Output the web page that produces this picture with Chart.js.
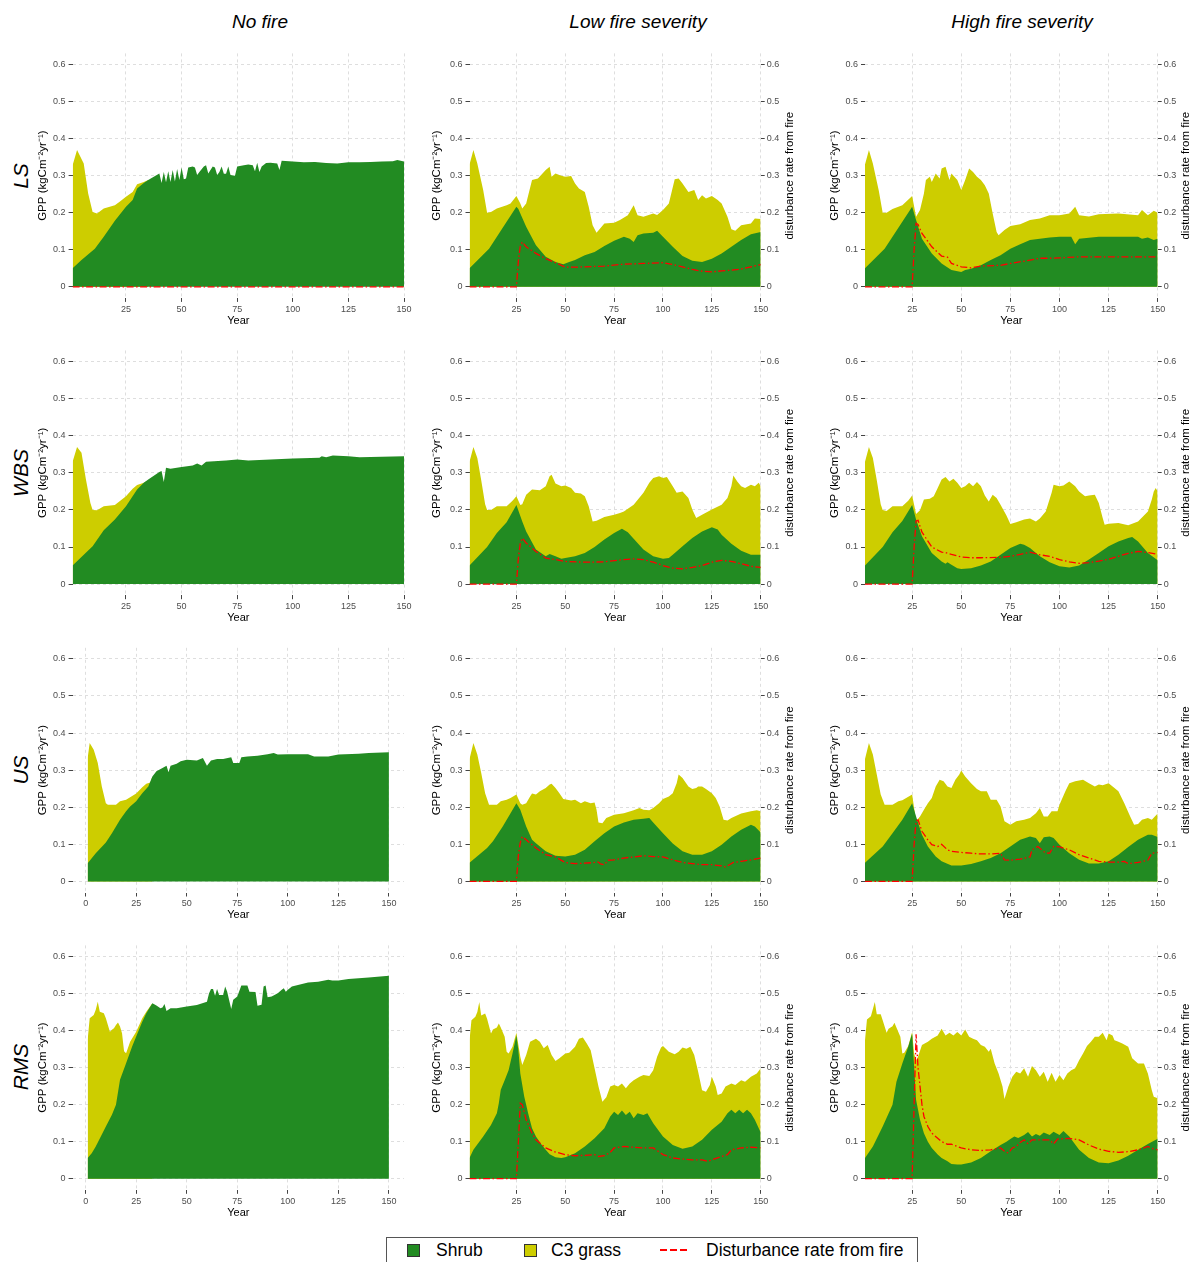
<!DOCTYPE html>
<html>
<head>
<meta charset="utf-8">
<script src="https://cdn.jsdelivr.net/npm/chart.js@4.4.0/dist/chart.umd.min.js"></script>
<style>
  body { margin: 0; background: #fff; width: 1192px; height: 1262px; position: relative; overflow: hidden;
         font-family: "Liberation Sans", Arial, sans-serif; }
  canvas { position: absolute; }
  .coltitle { position: absolute; top: 11px; font-size: 19px; line-height: 22px; font-style: italic;
              transform: translateX(-50%); white-space: nowrap; }
  .rowlabel { position: absolute; font-size: 21px; line-height: 24px; font-style: italic; white-space: nowrap;
              transform: translate(-50%, -50%) rotate(-90deg); }
  #legend { position: absolute; left: 386px; top: 1237px; width: 530px; height: 24px; border: 1px solid #555; }
  .lkey { position: absolute; top: 1244px; width: 13px; height: 13px; box-sizing: border-box; border: 1px solid #333; }
  .ltext { position: absolute; top: 1240px; font-size: 17.5px; line-height: 20px; white-space: nowrap; }
</style>
</head>
<body>
<div id="legend"></div>
<div class="lkey" style="left:407px;background:#228B22"></div>
<div class="ltext" style="left:436px">Shrub</div>
<div class="lkey" style="left:524px;background:#CDCD00"></div>
<div class="ltext" style="left:551px">C3 grass</div>
<svg style="position:absolute;left:658px;top:1244px" width="34" height="12">
  <line x1="2" y1="6" x2="32" y2="6" stroke="#FF0000" stroke-width="2" stroke-dasharray="7,3"/>
</svg>
<div class="ltext" style="left:706px">Disturbance rate from fire</div>

<script>
// Column and row labels
const colTitles = ["No fire", "Low fire severity", "High fire severity"];
const rowTitles = ["LS", "WBS", "US", "RMS"];
const yTicks = [0, 0.1, 0.2, 0.3, 0.4, 0.5, 0.6];
const xTicksA = [25, 50, 75, 100, 125, 150];
const xTicksB = [0, 25, 50, 75, 100, 125, 150];

// ---- LS ----
const lsNoShrub = [[1,.05],[5,.072],[11,.103],[15,.135],[20,.178],[25,.216],[28,.234],[30,.265],[33,.28],[35,.288],[40,.306],[41,.28],[42,.31],[43,.282],[44,.312],[45,.283],[46,.315],[47,.284],[48,.318],[49,.288],[50,.322],[51,.29],[52,.292],[53,.322],[55,.325],[56,.322],[57,.302],[58,.31],[60,.325],[61,.328],[62,.306],[63,.315],[64,.325],[65,.322],[66,.302],[67,.31],[68,.325],[69,.305],[70,.305],[71,.325],[72,.302],[74,.3],[75,.325],[78,.328],[80,.33],[82,.328],[83,.312],[84,.335],[85,.31],[86,.325],[88,.334],[90,.335],[93,.333],[94,.315],[95,.34],[100,.338],[105,.336],[110,.337],[115,.334],[120,.333],[125,.336],[130,.336],[135,.337],[140,.338],[145,.339],[147,.342],[150,.338]];
const lsNoGrass = [[1,.328],[3,.369],[6,.333],[8,.252],[10,.202],[12,.198],[15,.211],[20,.22],[22,.229],[25,.243],[28,.256],[30,.277],[33,.283],[35,.288]];
const lsNoFire = [[1,0],[150,0]];

const lsLowShrub = [[1,.05],[11,.103],[25,.216],[26,.21],[30,.162],[35,.112],[40,.081],[45,.067],[49,.061],[52,.067],[55,.072],[60,.085],[65,.094],[70,.11],[75,.124],[80,.135],[83,.13],[85,.121],[87,.139],[90,.144],[95,.146],[97,.151],[100,.135],[105,.108],[110,.083],[115,.07],[120,.067],[125,.076],[130,.09],[135,.108],[140,.126],[145,.142],[150,.148]];
const lsLowGrass = [[1,.33],[3,.369],[5,.333],[8,.261],[10,.2],[12,.202],[15,.211],[20,.22],[22,.225],[25,.245],[27,.225],[28,.211],[30,.225],[33,.288],[36,.292],[40,.315],[42,.324],[43,.297],[45,.306],[48,.3],[50,.297],[53,.299],[55,.279],[57,.265],[60,.256],[62,.216],[64,.166],[66,.146],[70,.171],[75,.173],[78,.18],[82,.193],[85,.22],[87,.193],[90,.189],[95,.198],[97,.194],[100,.207],[103,.225],[106,.29],[108,.292],[110,.279],[113,.256],[116,.261],[118,.234],[120,.247],[122,.238],[125,.245],[128,.234],[130,.225],[133,.189],[135,.155],[137,.151],[140,.166],[145,.171],[147,.184],[150,.183]];
const lsLowFire = [[1,0],[25,0],[26,.07],[27,.11],[28,.121],[30,.108],[35,.09],[40,.076],[45,.065],[50,.053],[55,.053],[60,.054],[70,.056],[80,.061],[90,.063],[100,.065],[105,.06],[110,.054],[115,.047],[120,.042],[125,.04],[130,.043],[135,.045],[140,.048],[145,.054],[150,.06]];

const lsHighShrub = [[1,.05],[11,.103],[25,.216],[27,.18],[30,.13],[35,.09],[40,.063],[45,.045],[50,.04],[52,.045],[55,.049],[60,.058],[65,.072],[70,.085],[75,.103],[80,.115],[85,.126],[90,.13],[95,.133],[100,.135],[106,.135],[108,.115],[110,.13],[120,.135],[140,.135],[142,.13],[145,.133],[148,.126],[150,.13]];
const lsHighGrass = [[1,.33],[3,.369],[5,.333],[8,.26],[10,.2],[12,.2],[15,.21],[20,.22],[25,.245],[27,.189],[29,.207],[31,.252],[32,.288],[34,.297],[35,.283],[37,.306],[39,.292],[40,.319],[42,.324],[44,.288],[45,.306],[48,.288],[50,.261],[52,.288],[54,.319],[56,.31],[58,.297],[60,.288],[62,.274],[64,.252],[66,.198],[68,.148],[69,.139],[72,.153],[75,.164],[80,.169],[85,.18],[90,.184],[95,.193],[100,.193],[105,.198],[108,.216],[110,.193],[115,.19],[120,.196],[130,.198],[140,.193],[142,.207],[145,.193],[148,.205],[150,.2]];
const lsHighFire = [[1,0],[25,0],[26,.1],[27,.171],[28,.168],[30,.144],[35,.108],[40,.083],[43,.08],[45,.063],[50,.054],[55,.051],[60,.056],[70,.058],[75,.063],[85,.072],[90,.077],[95,.077],[100,.078],[110,.081],[150,.081]];

// ---- WBS ----
const wbsNoShrub = [[1,.05],[10,.102],[15,.145],[20,.174],[25,.21],[30,.255],[33,.273],[35,.282],[40,.302],[41,.305],[42,.275],[43,.314],[45,.311],[50,.316],[55,.32],[57,.325],[59,.32],[61,.33],[70,.333],[75,.336],[80,.333],[100,.339],[112,.341],[113,.345],[115,.342],[118,.347],[125,.345],[130,.342],[150,.345]];
const wbsNoGrass = [[1,.33],[3,.37],[5,.354],[7,.282],[9,.219],[10,.2],[12,.199],[15,.21],[20,.213],[22,.223],[25,.237],[28,.257],[30,.267],[33,.273],[34,.277]];

const wbsLowShrub = [[1,.05],[10,.1],[15,.138],[20,.167],[25,.213],[28,.169],[30,.142],[35,.093],[40,.075],[42,.081],[45,.075],[48,.068],[50,.07],[55,.075],[60,.084],[65,.1],[70,.12],[75,.138],[79,.149],[82,.14],[85,.122],[90,.093],[95,.075],[100,.068],[103,.07],[105,.079],[110,.102],[115,.124],[120,.142],[125,.153],[128,.147],[130,.133],[135,.109],[140,.09],[145,.079],[150,.079]];
const wbsLowGrass = [[1,.33],[3,.37],[5,.34],[7,.28],[9,.215],[10,.2],[12,.2],[15,.21],[20,.21],[23,.225],[25,.237],[27,.213],[28,.215],[30,.241],[33,.255],[37,.253],[40,.264],[42,.291],[43,.295],[45,.271],[48,.264],[50,.266],[53,.259],[55,.246],[58,.244],[60,.237],[62,.21],[64,.169],[66,.171],[70,.181],[75,.187],[78,.192],[80,.196],[85,.214],[90,.246],[93,.273],[95,.286],[98,.291],[100,.286],[102,.289],[105,.264],[107,.246],[110,.25],[113,.232],[115,.201],[117,.178],[120,.187],[125,.201],[130,.214],[133,.232],[135,.264],[136,.293],[138,.277],[140,.264],[142,.259],[145,.268],[147,.264],[149,.273],[150,.264]];
const wbsLowFire = [[1,0],[25,0],[26,.07],[27,.11],[28,.124],[30,.111],[35,.088],[40,.07],[45,.066],[50,.061],[60,.059],[70,.06],[80,.066],[85,.068],[90,.066],[95,.059],[100,.05],[105,.043],[110,.041],[115,.045],[120,.05],[125,.059],[130,.064],[135,.061],[140,.055],[145,.048],[150,.045]];

const wbsHighShrub = [[1,.05],[10,.1],[15,.14],[20,.17],[25,.213],[27,.174],[30,.129],[35,.084],[40,.061],[42,.055],[43,.059],[45,.052],[48,.043],[50,.041],[55,.043],[60,.05],[65,.061],[70,.079],[75,.097],[80,.109],[82,.106],[85,.097],[90,.075],[95,.059],[100,.048],[105,.045],[110,.05],[115,.066],[120,.084],[125,.102],[130,.115],[135,.124],[137,.127],[140,.115],[145,.084],[150,.064]];
const wbsHighGrass = [[1,.33],[3,.37],[5,.34],[7,.28],[9,.215],[10,.2],[12,.197],[15,.21],[20,.21],[23,.225],[25,.239],[27,.189],[29,.199],[31,.228],[34,.23],[36,.237],[38,.259],[40,.282],[42,.289],[44,.277],[46,.284],[48,.273],[50,.259],[52,.264],[54,.273],[56,.264],[58,.275],[60,.264],[62,.239],[64,.223],[66,.241],[68,.232],[70,.214],[73,.185],[75,.162],[78,.167],[82,.174],[85,.177],[88,.169],[90,.177],[93,.196],[96,.246],[97,.268],[100,.264],[102,.266],[105,.277],[108,.264],[110,.25],[113,.237],[115,.239],[118,.241],[120,.219],[122,.178],[123,.16],[125,.163],[130,.165],[135,.159],[138,.165],[140,.169],[145,.196],[147,.228],[148,.25],[149,.259],[150,.25]];
const wbsHighFire = [[1,0],[25,0],[26,.1],[27,.17],[28,.172],[30,.14],[35,.1],[40,.086],[42,.085],[45,.08],[50,.073],[55,.071],[60,.071],[70,.072],[75,.075],[80,.08],[85,.086],[90,.079],[95,.075],[100,.066],[105,.06],[110,.056],[115,.058],[120,.062],[125,.067],[130,.075],[135,.083],[140,.088],[145,.085],[150,.08]];

// ---- US ----
const usNoShrub = [[1,.049],[5,.076],[10,.105],[13,.13],[17,.166],[20,.189],[22,.202],[25,.216],[28,.238],[31,.256],[33,.283],[35,.297],[38,.306],[40,.312],[41,.294],[42,.312],[45,.317],[47,.324],[50,.328],[55,.326],[58,.333],[60,.312],[62,.326],[65,.33],[68,.33],[72,.335],[73,.319],[76,.319],[77,.335],[80,.337],[85,.339],[90,.343],[93,.346],[95,.342],[100,.343],[110,.343],[113,.337],[120,.337],[125,.342],[135,.344],[140,.346],[150,.348]];
const usNoGrass = [[1,.333],[2,.373],[4,.355],[6,.319],[8,.256],[10,.211],[11,.207],[15,.207],[17,.216],[20,.22],[25,.237],[28,.254],[30,.263],[32,.267],[33,.283]];

const usLowShrub = [[1,.05],[10,.09],[13,.108],[18,.148],[22,.184],[25,.211],[27,.193],[30,.148],[33,.112],[35,.103],[40,.081],[45,.069],[50,.067],[55,.072],[60,.085],[65,.108],[70,.13],[75,.148],[80,.159],[85,.166],[90,.169],[93,.171],[95,.159],[100,.13],[105,.102],[110,.081],[115,.072],[120,.072],[125,.081],[130,.099],[135,.121],[140,.139],[145,.153],[147,.148],[150,.132]];
const usLowGrass = [[1,.33],[3,.373],[5,.342],[7,.292],[9,.238],[11,.207],[15,.207],[17,.216],[20,.22],[22,.225],[25,.234],[27,.211],[28,.207],[30,.211],[32,.229],[33,.237],[35,.234],[37,.243],[40,.252],[42,.261],[43,.263],[45,.252],[47,.238],[49,.222],[51,.22],[53,.218],[55,.22],[58,.211],[60,.216],[63,.211],[65,.213],[66,.193],[67,.159],[69,.157],[71,.171],[75,.18],[80,.184],[85,.192],[88,.198],[90,.193],[93,.192],[95,.198],[98,.211],[100,.222],[103,.229],[105,.238],[107,.265],[108,.288],[110,.279],[113,.256],[115,.249],[117,.252],[118,.256],[120,.256],[122,.249],[125,.238],[127,.225],[129,.202],[131,.166],[133,.164],[135,.171],[140,.183],[145,.189],[148,.192],[150,.189]];
const usLowFire = [[1,0],[25,0],[26,.07],[27,.105],[28,.121],[30,.112],[35,.09],[40,.072],[45,.066],[50,.051],[55,.048],[60,.049],[65,.051],[67,.052],[68,.047],[70,.045],[72,.057],[75,.058],[80,.063],[85,.066],[90,.069],[95,.067],[100,.066],[105,.058],[110,.051],[115,.048],[120,.045],[125,.045],[130,.042],[132,.039],[134,.045],[136,.051],[140,.054],[145,.058],[150,.063]];

const usHighShrub = [[1,.05],[10,.094],[15,.13],[20,.166],[25,.211],[27,.175],[30,.126],[33,.094],[37,.067],[40,.054],[45,.043],[50,.043],[55,.047],[60,.054],[65,.063],[70,.076],[75,.094],[80,.112],[85,.121],[88,.117],[90,.103],[92,.119],[95,.121],[97,.117],[100,.099],[105,.076],[110,.058],[115,.048],[120,.048],[125,.054],[130,.072],[135,.093],[140,.112],[145,.126],[147,.126],[150,.12]];
const usHighGrass = [[1,.33],[3,.373],[5,.342],[7,.288],[9,.234],[11,.207],[15,.207],[18,.216],[20,.219],[25,.234],[27,.162],[29,.175],[31,.193],[33,.211],[35,.225],[37,.256],[39,.274],[41,.27],[43,.256],[45,.252],[47,.274],[49,.288],[50,.299],[52,.283],[55,.265],[58,.249],[60,.243],[63,.243],[65,.22],[68,.22],[70,.202],[72,.162],[75,.153],[78,.162],[82,.166],[85,.171],[88,.184],[90,.198],[92,.175],[94,.175],[96,.189],[99,.189],[100,.207],[103,.243],[105,.265],[108,.27],[112,.274],[115,.265],[118,.256],[120,.261],[122,.259],[125,.265],[128,.252],[130,.243],[133,.211],[136,.175],[138,.153],[140,.155],[142,.166],[145,.171],[147,.166],[150,.183]];
const usHighFire = [[1,0],[25,0],[26,.1],[27,.162],[28,.166],[30,.135],[33,.112],[35,.099],[38,.094],[40,.1],[43,.085],[45,.081],[50,.078],[55,.076],[60,.074],[65,.074],[70,.076],[72,.058],[75,.057],[80,.06],[85,.066],[86,.085],[89,.094],[91,.085],[93,.076],[95,.076],[97,.094],[100,.093],[105,.085],[110,.072],[115,.063],[120,.054],[125,.052],[130,.052],[133,.054],[135,.048],[140,.051],[145,.057],[147,.076],[150,.078]];

// ---- RMS ----
const rmsNoShrub = [[1,.056],[3,.069],[5,.087],[8,.119],[10,.141],[13,.173],[15,.2],[17,.267],[20,.312],[23,.357],[25,.384],[28,.424],[30,.447],[33,.474],[35,.468],[37,.46],[38,.462],[39,.472],[40,.453],[42,.46],[45,.46],[50,.465],[55,.469],[60,.478],[61,.5],[62,.512],[63,.512],[64,.494],[65,.512],[66,.496],[68,.496],[69,.519],[70,.505],[72,.458],[73,.483],[75,.492],[77,.522],[80,.522],[81,.505],[84,.504],[85,.467],[87,.47],[88,.519],[89,.522],[90,.49],[92,.492],[95,.501],[97,.51],[98,.514],[99,.505],[100,.51],[102,.519],[105,.523],[110,.53],[115,.532],[120,.537],[122,.535],[125,.535],[130,.539],[140,.543],[150,.548]];
const rmsNoGrass = [[1,.375],[2,.433],[4,.442],[5,.456],[6,.478],[7,.451],[9,.447],[10,.433],[12,.397],[13,.402],[14,.406],[15,.415],[16,.422],[17,.411],[18,.393],[19,.344],[20,.339],[22,.37],[25,.397],[28,.433],[30,.451],[33,.474]];

const rmsLowShrub = [[1,.056],[3,.078],[8,.114],[12,.145],[15,.177],[16,.204],[17,.24],[19,.266],[21,.293],[23,.338],[25,.387],[26,.347],[27,.284],[29,.222],[31,.177],[33,.136],[35,.114],[38,.091],[40,.078],[42,.066],[45,.058],[48,.056],[50,.058],[55,.069],[60,.087],[65,.109],[70,.136],[73,.168],[75,.181],[77,.172],[79,.184],[81,.172],[83,.181],[85,.163],[87,.177],[90,.172],[92,.177],[95,.15],[100,.114],[105,.091],[110,.081],[115,.087],[120,.105],[125,.132],[130,.154],[133,.177],[135,.186],[137,.177],[139,.186],[141,.177],[143,.186],[145,.177],[147,.159],[150,.125]];
const rmsLowGrass = [[1,.374],[2,.428],[4,.437],[5,.45],[6,.477],[7,.441],[9,.446],[10,.432],[12,.392],[13,.403],[15,.408],[16,.419],[17,.408],[19,.383],[20,.343],[21,.338],[23,.356],[25,.394],[27,.329],[28,.307],[30,.334],[32,.37],[35,.378],[37,.37],[39,.352],[41,.361],[43,.334],[45,.318],[47,.325],[50,.338],[52,.34],[55,.356],[57,.378],[59,.381],[61,.365],[63,.347],[65,.298],[67,.249],[69,.208],[71,.22],[73,.249],[75,.253],[77,.249],[79,.257],[81,.244],[83,.257],[85,.266],[88,.275],[90,.28],[93,.277],[95,.293],[97,.329],[99,.354],[100,.358],[103,.343],[106,.336],[108,.343],[110,.354],[112,.351],[114,.356],[116,.334],[118,.289],[120,.239],[122,.235],[124,.253],[125,.275],[127,.249],[128,.226],[130,.23],[132,.249],[135,.257],[137,.253],[140,.266],[142,.262],[145,.275],[148,.284],[150,.298]];
const rmsLowFire = [[1,0],[25,0],[26,.1],[27,.204],[28,.2],[30,.159],[33,.123],[35,.105],[40,.083],[45,.072],[50,.065],[55,.062],[60,.063],[65,.065],[67,.06],[70,.062],[73,.071],[75,.083],[80,.087],[85,.085],[90,.083],[95,.083],[100,.065],[105,.056],[110,.053],[115,.051],[120,.051],[123,.047],[126,.053],[130,.06],[133,.065],[135,.078],[140,.083],[145,.085],[150,.083]];

const rmsHighShrub = [[1,.056],[5,.087],[10,.141],[15,.2],[17,.262],[20,.311],[23,.356],[25,.392],[26,.303],[27,.213],[29,.159],[31,.123],[33,.1],[35,.083],[38,.065],[40,.056],[43,.047],[45,.04],[48,.038],[50,.038],[55,.044],[60,.056],[65,.074],[70,.091],[73,.1],[75,.107],[77,.114],[79,.11],[82,.118],[84,.126],[86,.114],[88,.121],[90,.116],[92,.125],[95,.118],[97,.127],[100,.118],[102,.129],[105,.114],[110,.078],[115,.056],[120,.044],[125,.042],[130,.049],[135,.062],[140,.078],[145,.094],[150,.108]];
const rmsHighGrass = [[1,.374],[2,.43],[4,.439],[6,.477],[7,.444],[9,.444],[10,.428],[12,.394],[13,.405],[15,.412],[16,.421],[17,.408],[19,.383],[20,.338],[21,.34],[23,.358],[25,.396],[26,.338],[27,.32],[28,.329],[30,.361],[33,.37],[35,.378],[38,.387],[40,.405],[42,.387],[44,.394],[46,.387],[48,.396],[50,.387],[52,.403],[54,.383],[56,.378],[58,.374],[60,.361],[62,.356],[64,.343],[65,.351],[67,.311],[69,.284],[71,.249],[72,.215],[74,.249],[76,.275],[78,.289],[80,.284],[82,.298],[84,.275],[86,.304],[88,.293],[90,.275],[92,.289],[94,.262],[96,.286],[98,.262],[100,.28],[102,.266],[104,.284],[106,.293],[108,.298],[110,.32],[112,.338],[114,.358],[116,.37],[118,.383],[120,.383],[122,.394],[124,.374],[125,.392],[127,.387],[128,.374],[130,.37],[132,.365],[135,.356],[137,.325],[140,.311],[143,.311],[145,.284],[147,.239],[148,.221],[150,.217]];
const rmsHighFire = [[1,0],[25,0],[26,.2],[27,.39],[28,.3],[29,.25],[30,.2],[31,.168],[33,.141],[35,.123],[38,.109],[40,.1],[43,.093],[45,.093],[48,.087],[50,.083],[55,.078],[60,.076],[65,.078],[70,.083],[72,.074],[74,.069],[76,.083],[78,.087],[80,.098],[82,.105],[84,.094],[86,.105],[90,.105],[95,.105],[97,.094],[99,.107],[105,.109],[110,.105],[115,.091],[120,.08],[125,.074],[130,.071],[135,.073],[140,.078],[145,.087],[148,.08],[150,.078]];

const panels = [
  [[lsNoShrub, lsNoGrass, lsNoFire], [lsLowShrub, lsLowGrass, lsLowFire], [lsHighShrub, lsHighGrass, lsHighFire]],
  [[wbsNoShrub, wbsNoGrass, null], [wbsLowShrub, wbsLowGrass, wbsLowFire], [wbsHighShrub, wbsHighGrass, wbsHighFire]],
  [[usNoShrub, usNoGrass, null], [usLowShrub, usLowGrass, usLowFire], [usHighShrub, usHighGrass, usHighFire]],
  [[rmsNoShrub, rmsNoGrass, null], [rmsLowShrub, rmsLowGrass, rmsLowFire], [rmsHighShrub, rmsHighGrass, rmsHighFire]]
];

// layout of the grid (pixels)
const colBox = [
  { left: 0, width: 420, plotLeft: 72.6, plotRight: 404, yTitleX: 43, rTitleX: null, titleX: 260 },
  { left: 420, width: 390, plotLeft: 469.5, plotRight: 760.7, yTitleX: 437, rTitleX: 790, titleX: 638 },
  { left: 810, width: 382, plotLeft: 865, plotRight: 1157.7, yTitleX: 835, rTitleX: 1186, titleX: 1022 }
];
const rowTop0 = 53.2, rowStep = 297.3, plotH = 244.7;

Chart.defaults.font.family = '"Liberation Sans", Arial, sans-serif';
Chart.defaults.color = "#4d4d4d";

const rightTitle = {
  id: "rightTitle",
  afterDraw(chart, args, opts) {
    if (!opts.text) return;
    const { ctx, chartArea } = chart;
    ctx.save();
    ctx.translate(opts.x, (chartArea.top + chartArea.bottom) / 2);
    ctx.rotate(-Math.PI / 2);
    ctx.font = '11.5px "Liberation Sans", Arial, sans-serif';
    ctx.fillStyle = "#000";
    ctx.textAlign = "center";
    ctx.textBaseline = "middle";
    ctx.fillText(opts.text, 0, 0);
    ctx.restore();
  }
};

function toXY(arr) {
  return arr.map(p => ({ x: p[0], y: p[1] }));
}

function yFmt(v) {
  return v === 0 ? "0" : v.toFixed(1);
}

function makeAxis(side, width, cb) {
  return {
    type: "linear",
    position: side,
    min: -0.03,
    max: 0.63,
    afterBuildTicks: s => { s.ticks = yTicks.map(v => ({ value: v })); },
    afterFit: s => { s.width = width; },
    grid: { color: "#dedede", tickColor: "#444", tickLength: 4, tickBorderDash: [], drawOnChartArea: side === "left" },
    border: { display: false, dash: [3, 3] },
    ticks: { color: "#4d4d4d", font: { size: 9 }, padding: side === "left" ? 3 : 2, callback: yFmt },
    title: cb
  };
}

// titles
colTitles.forEach((t, c) => {
  const d = document.createElement("div");
  d.className = "coltitle";
  d.style.left = colBox[c].titleX + "px";
  d.textContent = t;
  document.body.appendChild(d);
});
rowTitles.forEach((t, r) => {
  const d = document.createElement("div");
  d.className = "rowlabel";
  d.style.left = "21px";
  d.style.top = (rowTop0 + rowStep * r + plotH / 2) + "px";
  d.textContent = t;
  document.body.appendChild(d);
});

for (let r = 0; r < 4; r++) {
  for (let c = 0; c < 3; c++) {
    const box = colBox[c];
    const T = rowTop0 + rowStep * r;
    const cTop = Math.floor(T - 8);
    const padTop = T - cTop;
    const H = 286;
    const xH = H - padTop - plotH;

    const canvas = document.createElement("canvas");
    canvas.width = box.width;
    canvas.height = H;
    canvas.style.left = box.left + "px";
    canvas.style.top = cTop + "px";
    document.body.appendChild(canvas);

    const [shrub, grass, fire] = panels[r][c];
    const wideX = c === 0 && r >= 2;
    const rightW = box.left + box.width - box.plotRight;

    const datasets = [
      { label: "Disturbance rate from fire", data: fire ? toXY(fire) : [], yAxisID: c === 0 ? "y" : "y1",
        borderColor: "#FF0000", borderWidth: 1.3, borderDash: [7, 2.5, 1.5, 2.5], fill: false, order: 0 },
      { label: "Shrub", data: toXY(shrub), yAxisID: "y", backgroundColor: "#228B22",
        borderColor: "rgba(0,0,0,0)", borderWidth: 0, fill: "origin", order: 1 },
      { label: "C3 grass", data: toXY(grass), yAxisID: "y", backgroundColor: "#CDCD00",
        borderColor: "rgba(0,0,0,0)", borderWidth: 0, fill: "origin", order: 2 }
    ];

    const yLeftW = box.plotLeft - box.left;
    const scales = {
      x: {
        type: "linear",
        min: wideX ? -6.45 : 1,
        max: wideX ? 157.45 : 150,
        afterBuildTicks: s => { s.ticks = (wideX ? xTicksB : xTicksA).map(v => ({ value: v })); },
        afterFit: s => { s.height = xH; },
        grid: { color: "#dedede", tickColor: "#444", tickLength: 4, tickBorderDash: [] },
        border: { display: false, dash: [3, 3] },
        ticks: { color: "#4d4d4d", font: { size: 9 }, padding: 2, maxRotation: 0, autoSkip: false },
        title: { display: true, text: "Year", color: "#000", font: { size: 11 }, padding: { top: 0, bottom: 3.5 } }
      },
      y: makeAxis("left", yLeftW, {
        display: true, text: "GPP (kgCm\u207B\u00B2yr\u207B\u00B9)", color: "#000", font: { size: 11.5 },
        padding: { top: box.yTitleX - box.left - 6.9, bottom: 0 }
      })
    };
    if (c > 0) {
      scales.y1 = makeAxis("right", rightW, { display: false });
    }

    new Chart(canvas, {
      type: "line",
      data: { datasets },
      plugins: [rightTitle],
      options: {
        responsive: false,
        animation: false,
        devicePixelRatio: 1,
        layout: { autoPadding: false, padding: { top: padTop, left: 0, bottom: 0, right: c === 0 ? rightW : 0 } },
        elements: { point: { radius: 0 }, line: { tension: 0 } },
        plugins: {
          legend: { display: false },
          tooltip: { enabled: false },
          rightTitle: { text: c > 0 ? "disturbance rate from fire" : "", x: box.rTitleX - box.left }
        },
        scales
      }
    });
  }
}
</script>
</body>
</html>
